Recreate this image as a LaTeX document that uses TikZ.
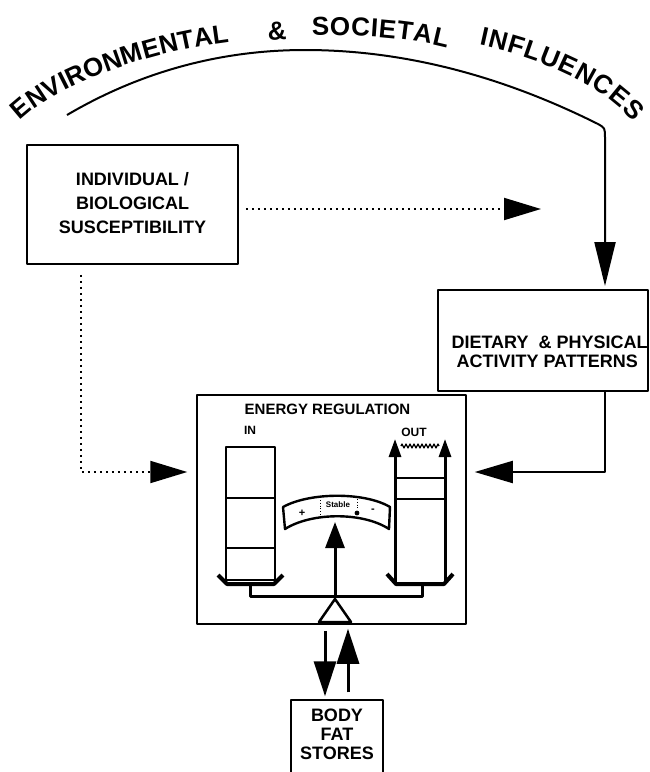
\documentclass[tikz,border=0pt]{standalone}
\usepackage{fontspec}
\setmainfont{Liberation Sans}
\usetikzlibrary{arrows.meta,decorations.text,decorations.pathmorphing}
\newcommand\ttlfont{\fontsize{26pt}{26pt}\selectfont\bfseries}
\begin{document}
\begin{tikzpicture}[x=1pt,y=-1pt,line join=round,
  boxstyle/.style={draw,line width=1.8pt,inner sep=0pt},
  lbl/.style={font=\fontsize{18pt}{24pt}\selectfont\bfseries,align=center},
  dotline/.style={line width=2pt,dash pattern=on 2pt off 4pt},
  bigtip/.style={-{Triangle[length=#1,width=22pt]}},
  arctext/.style={decorate,decoration={text along path,text={|\ttlfont|#1},text align=fit to path}}]
\useasboundingbox (0,0) rectangle (650,772);
% title along the arc
\path[arctext=ENVIRONMENTAL] (20,121) .. controls (50,91) and (130,56) .. (222,43);
\node[font=\ttlfont,rotate=3] (amp) at (277,31) {\&};
\path[arctext=SOCIETAL] (312,36) .. controls (355,34) and (410,38) .. (447,48);
\path[arctext=INFLUENCES] (479,45) .. controls (530,56) and (598,80) .. (633,122);
% boxes
\node[boxstyle,minimum width=211pt,minimum height=119pt] (indiv) at (132.5,204.5) {};
\node[lbl] (indivtxt) at (132.5,203) {INDIVIDUAL /\\BIOLOGICAL\\SUSCEPTIBILITY};
\node[boxstyle,minimum width=210pt,minimum height=101pt] (diet) at (543,340.5) {};
\node[lbl,font=\fontsize{18pt}{19pt}\selectfont\bfseries,align=left,anchor=west] (diettxt) at (448,352) {DIETARY \ \& PHYSICAL\\\ ACTIVITY PATTERNS};
\node[draw,line width=1.5pt,inner sep=0pt,minimum width=269pt,minimum height=229pt] (energy) at (331.5,509.5) {};
\node[draw,line width=1.5pt,inner sep=0pt,minimum width=92pt,minimum height=76pt] (fat) at (337,738) {};
\node[lbl,font=\fontsize{18pt}{19pt}\selectfont\bfseries] (fattxt) at (337,734) {BODY\\FAT\\STORES};
% energy regulation contents
\node[font=\fontsize{15pt}{15pt}\selectfont\bfseries] (ertitle) at (327.5,409) {ENERGY REGULATION};
\node[font=\fontsize{12pt}{12pt}\selectfont\bfseries] (inlbl) at (250,430) {IN};
\node[font=\fontsize{12pt}{12pt}\selectfont\bfseries] (outlbl) at (414,432) {OUT};
\node[draw,line width=2.2pt,inner sep=0pt,minimum width=49pt,minimum height=133pt] (incol) at (250.5,513.5) {};
\draw[line width=1.2pt] (226,498) -- (275,498);
\draw[line width=1.2pt] (226,548) -- (275,548);
\draw[line width=4pt] (218,575) -- (227,584) -- (274,584) -- (283,575);
\draw[line width=4pt] (387,574) -- (396,584) -- (444,584) -- (453,574);
\draw[line width=3pt] (250,584) -- (250,596) -- (422,596) -- (422,584);
\draw[line width=3pt,-{Triangle[length=18pt,width=12pt]}] (395,584) -- (395,439);
\draw[line width=3pt,-{Triangle[length=18pt,width=12pt]}] (445,584) -- (445,439);
\draw[line width=1.2pt] (395,478) -- (445,478);
\draw[line width=2pt] (396,499) -- (444,499);
\draw[line width=1.2pt,decorate,decoration={zigzag,amplitude=2pt,segment length=4pt}] (401,446) -- (439,446);
\draw[line width=2.4pt,fill=white] (283,507) .. controls (310,492) and (365,492) .. (390,507) -- (389,529) .. controls (363,512) and (312,512) .. (285,529) -- cycle;
\node[font=\fontsize{8pt}{8pt}\selectfont\bfseries] (stable) at (338,505) {Stable};
\node[font=\fontsize{11pt}{11pt}\selectfont\bfseries] (plus) at (302,513) {+};
\node[font=\fontsize{11pt}{11pt}\selectfont\bfseries] (minus) at (373,511) {-};
\fill (357,513) circle (2.4pt);
\draw[line width=0.8pt,dotted] (320,500) -- (320,515);
\draw[line width=0.8pt,dotted] (357,499) -- (357,508);
\draw[line width=3pt,-{Triangle[length=26pt,width=19pt]}] (335,596) -- (335,522);
\draw[line width=2.5pt,fill=white] (335,599) -- (319,622) -- (351,622) -- cycle;
% connectors
\coordinate (arcL) at (67,115);
\coordinate (dietX) at (605,0);
\coordinate (lx) at (81,0);
\coordinate (ly) at (0,472);
\coordinate (dtip) at (541,209);
\coordinate (fx1) at (325,0);
\coordinate (fx2) at (348,0);
\draw[line width=2pt,-{Triangle[length=44pt,width=21pt]}] (arcL) .. controls (140,72) and (220,50) .. (305,50) .. controls (420,50) and (520,85) .. (598,124) .. controls (605,128) .. (605,138) -- ([yshift=3pt]diet.north -| dietX);
\draw[dotline,bigtip=37pt] ([xshift=7pt,yshift=-4.5pt]indiv.east) -- (dtip);
\draw[dotline,bigtip=37pt] ([yshift=-10pt]indiv.south -| lx) |- ([xshift=-9pt]energy.west |- ly);
\draw[line width=2pt,bigtip=38pt] (diet.south -| dietX) |- ([xshift=8pt]energy.east |- ly);
\draw[line width=3pt,bigtip=35pt] ([yshift=-6pt]energy.south -| fx1) -- ([yshift=3pt]fat.north -| fx1);
\draw[line width=3pt,bigtip=35pt] ([yshift=7pt]fat.north -| fx2) -- ([yshift=-4pt]energy.south -| fx2);
\end{tikzpicture}
\end{document}
